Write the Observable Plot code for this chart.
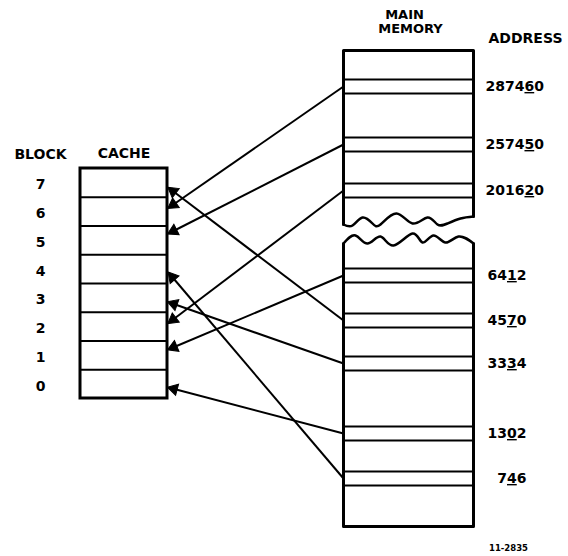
<!DOCTYPE html>
<html>
<head>
<meta charset="utf-8">
<script src="https://cdn.jsdelivr.net/npm/d3@7"></script>
<script src="https://cdn.jsdelivr.net/npm/@observablehq/plot@0.6"></script>
<style>
  html, body { margin: 0; padding: 0; background: #fff; }
  svg { display: block; }
</style>
</head>
<body>
<div id="chart"></div>
<script>
// ---- data ----
const blocks = [7, 6, 5, 4, 3, 2, 1, 0];
const addresses = ["287460", "257450", "201620", "6412", "4570", "3334", "1302", "746"];
const underlinedDigit = [4, 4, 4, 2, 2, 2, 2, 1];      // index of the underlined (block) digit
const targetBlock = [6, 5, 2, 1, 7, 3, 0, 4];          // cache block each address maps to
const addressGroup = ["high", "high", "high", "low", "low", "low", "low", "low"];
const figureId = "11-2835";

// ---- layout (diagram geometry) ----
const cache = {x1: 80, x2: 167, top: 168, rowH: 28.75};
const blockLabelX = 40;
const arrowTipOffset = {7: 20, 6: 10, 5: 7, 4: 19, 3: 19, 2: 10, 1: 8, 0: 18};
const mem = {x1: 343, x2: 473, top: 50, upperLeftEnd: 224, upperRightEnd: 216, lowerLeftStart: 243, lowerRightStart: 243, bottom: 526};
const slotTop = [79, 137, 183, 268, 313, 356, 426, 471];
const slotH = 14;
const upperWave = [[343,224],[352,225],[362,217],[372,223],[380,224],[396,213],[412,223],[427,217],[437,224],[447,223],[460,218],[473,216]];
const lowerWave = [[343,243],[355,235],[367,243],[380,236],[393,245],[412,233],[422,242],[433,235],[445,242],[458,236],[473,243]];

const rowIndex = b => blocks.indexOf(b);
const rowTop = i => cache.top + i * cache.rowH;
const rowCenter = b => rowTop(rowIndex(b)) + cache.rowH / 2 + 2;
const slotCenter = i => slotTop[i] + slotH / 2;

const links = addresses.map((a, i) => {
  const x1 = mem.x1, y1 = slotCenter(i);
  const x2 = cache.x2 + 2, y2 = rowTop(rowIndex(targetBlock[i])) + arrowTipOffset[targetBlock[i]];
  const dx = x2 - x1, dy = y2 - y1, len = Math.hypot(dx, dy);
  return {address: a, x1, y1, x2, y2,
    hx: x2 - dx / len * 4.5, hy: y2 - dy / len * 4.5,
    angle: Math.atan2(dx, -dy) * 180 / Math.PI};
});

const slotLines = slotTop.flatMap(t => [t, t + slotH]);
const cacheInner = blocks.slice(1).map((b, i) => rowTop(i + 1));

const font = "DejaVu Sans";
const txt = {fontFamily: font, fontWeight: "bold", fontSize: 14, fill: "black"};

const chart = Plot.plot({
  width: 568, height: 556, margin: 0,
  x: {domain: [0, 568], axis: null},
  y: {domain: [0, 556], reverse: true, axis: null},
  marks: [
    // cache box
    Plot.rect([0], {x1: cache.x1, x2: cache.x2, y1: cache.top, y2: cache.top + 8 * cache.rowH, fill: "white", stroke: "black", strokeWidth: 3}),
    Plot.ruleY(cacheInner, {y: d => d, x1: cache.x1, x2: cache.x2, stroke: "black", strokeWidth: 2}),
    Plot.text(blocks, {x: blockLabelX, y: d => rowCenter(d), text: d => String(d), ...txt}),
    Plot.text(["BLOCK"], {x: blockLabelX, y: 154, text: d => d, ...txt, letterSpacing: 1}),
    Plot.text(["CACHE"], {x: (cache.x1 + cache.x2) / 2, y: 153, text: d => d, ...txt}),

    // main memory outline (upper part)
    Plot.line([[mem.x1, mem.upperLeftEnd], [mem.x1, mem.top], [mem.x2, mem.top], [mem.x2, mem.upperRightEnd]], {x: d => d[0], y: d => d[1], stroke: "black", strokeWidth: 3}),
    Plot.line(upperWave, {x: d => d[0], y: d => d[1], curve: "natural", stroke: "black", strokeWidth: 2.5}),
    // main memory outline (lower part)
    Plot.line(lowerWave, {x: d => d[0], y: d => d[1], curve: "natural", stroke: "black", strokeWidth: 2.5}),
    Plot.line([[mem.x1, mem.lowerLeftStart], [mem.x1, mem.bottom], [mem.x2, mem.bottom], [mem.x2, mem.lowerRightStart]], {x: d => d[0], y: d => d[1], stroke: "black", strokeWidth: 3}),
    Plot.ruleY(slotLines, {y: d => d, x1: mem.x1, x2: mem.x2, stroke: "black", strokeWidth: 2}),
    Plot.text(["MAIN"], {x: 404, y: 14, text: d => d, ...txt, fontSize: 13, letterSpacing: 1}),
    Plot.text(["MEMORY"], {x: 410, y: 28.5, text: d => d, ...txt, fontSize: 13}),
    Plot.text(["ADDRESS"], {x: 525, y: 38, text: d => d, ...txt}),

    // address labels
    Plot.text(addresses.filter((a, i) => addressGroup[i] === "high"), {x: 485, y: a => slotCenter(addresses.indexOf(a)), text: d => d, textAnchor: "start", ...txt}),
    Plot.text(addresses.filter((a, i) => addressGroup[i] === "low"), {x: 526, y: a => slotCenter(addresses.indexOf(a)), text: d => d, textAnchor: "end", ...txt}),

    // mapping arrows
    Plot.link(links, {x1: "x1", y1: "y1", x2: "x2", y2: "y2", stroke: "black", strokeWidth: 2}),
    Plot.dot(links, {x: "hx", y: "hy", rotate: "angle", symbol: "triangle", r: 4.3, fill: "black", stroke: "black", strokeWidth: 1}),

    Plot.text([figureId], {x: 508, y: 548, text: d => d, fontFamily: font, fontWeight: "bold", fontSize: 8.5, fill: "black"})
  ]
});

// underline the block-number digit of each address
chart.querySelectorAll("text").forEach(el => {
  const s = el.textContent;
  const i = addresses.indexOf(s);
  if (i < 0) return;
  const k = underlinedDigit[i];
  const e = d3.select(el).text(null);
  e.append("tspan").text(s.slice(0, k));
  e.append("tspan").attr("text-decoration", "underline").style("text-decoration", "underline").text(s[k]);
  e.append("tspan").text(s.slice(k + 1));
});

document.getElementById("chart").appendChild(chart);
</script>
</body>
</html>
